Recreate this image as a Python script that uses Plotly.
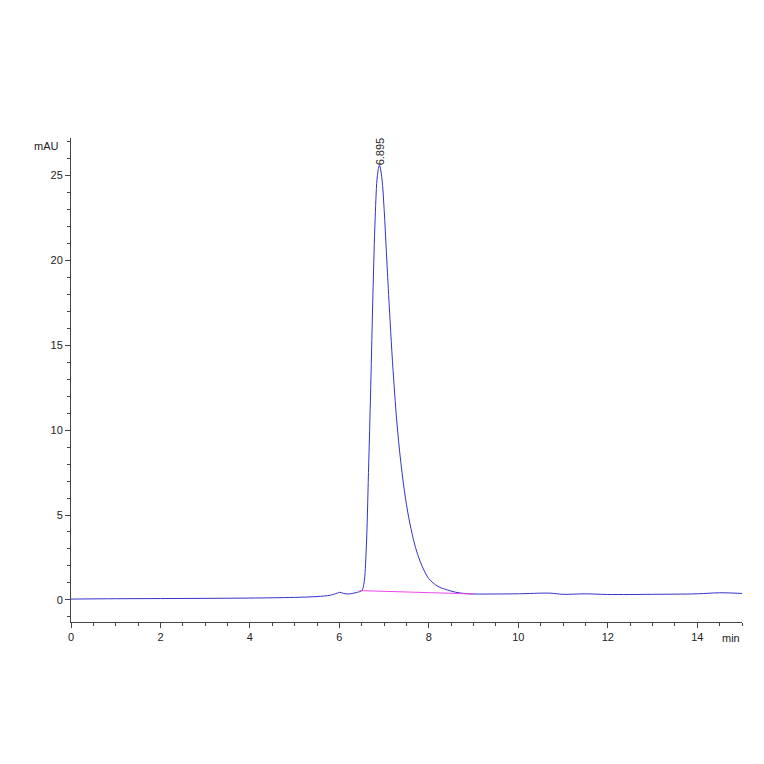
import plotly.graph_objects as go

# chromatogram trace (min, mAU)
time_min = [0, 1, 2, 3, 4, 5, 5.5, 5.8, 5.95, 6.0, 6.1, 6.2, 6.4, 6.5, 6.55, 6.6, 6.65,
            6.7, 6.75, 6.8, 6.85, 6.895, 6.95, 7.0, 7.05, 7.1, 7.2, 7.3, 7.4, 7.5,
            7.6, 7.7, 7.8, 7.9, 8.0, 8.2, 8.4, 8.6, 8.8, 9.0, 9.5, 10, 10.7, 11,
            11.5, 12, 13, 14, 14.5, 15]
signal_mau = [0.05, 0.07, 0.08, 0.09, 0.11, 0.15, 0.2, 0.28, 0.4, 0.45, 0.38, 0.35, 0.45,
              0.55, 1.0, 3.0, 7.5, 12.5, 18, 22.5, 25, 25.6, 24.8, 23.0, 20.5, 18,
              13.5, 10, 7.5, 5.6, 4.2, 3.1, 2.3, 1.7, 1.25, 0.8, 0.6, 0.45, 0.38,
              0.35, 0.35, 0.36, 0.4, 0.33, 0.36, 0.32, 0.33, 0.36, 0.42, 0.38]

baseline_t = [6.45, 9.0]
baseline_y = [0.55, 0.35]

peak_rt = 6.895
peak_label = "6.895"

fig = go.Figure()
fig.add_trace(go.Scatter(x=time_min, y=signal_mau, mode="lines",
                         line=dict(color="#3333cc", width=1), line_shape="spline"))
fig.add_trace(go.Scatter(x=baseline_t, y=baseline_y, mode="lines",
                         line=dict(color="#ee44ee", width=1)))
fig.add_annotation(x=peak_rt, y=25.5, text=peak_label, textangle=-90, showarrow=False,
                   xanchor="center", yanchor="bottom", font=dict(size=11, color="#222"))

fig.update_layout(
    width=764, height=764, showlegend=False,
    plot_bgcolor="white", paper_bgcolor="white",
    margin=dict(l=63, r=30, t=130, b=150),
    font=dict(family="Liberation Sans, Arial", size=11, color="#222"),
)
fig.update_xaxes(range=[0, 15], dtick=2, showgrid=False, zeroline=False,
                 showline=True, linecolor="#444", ticks="outside", ticklen=5,
                 minor=dict(dtick=0.5, ticks="outside", ticklen=3, tickcolor="#444"))
fig.update_yaxes(range=[-1.3, 27.2], dtick=5, showgrid=False, zeroline=False,
                 showline=True, linecolor="#444", ticks="outside", ticklen=5,
                 minor=dict(dtick=1, ticks="outside", ticklen=3, tickcolor="#444"))
fig.add_annotation(x=15, y=-1.3, xref="x", yref="y", text="min", showarrow=False,
                   xanchor="right", yanchor="top", yshift=-8)
fig.add_annotation(x=0, y=27.2, xref="x", yref="y", text="mAU", showarrow=False,
                   xanchor="right", yanchor="top", xshift=-10)

fig.write_html("out.html")
